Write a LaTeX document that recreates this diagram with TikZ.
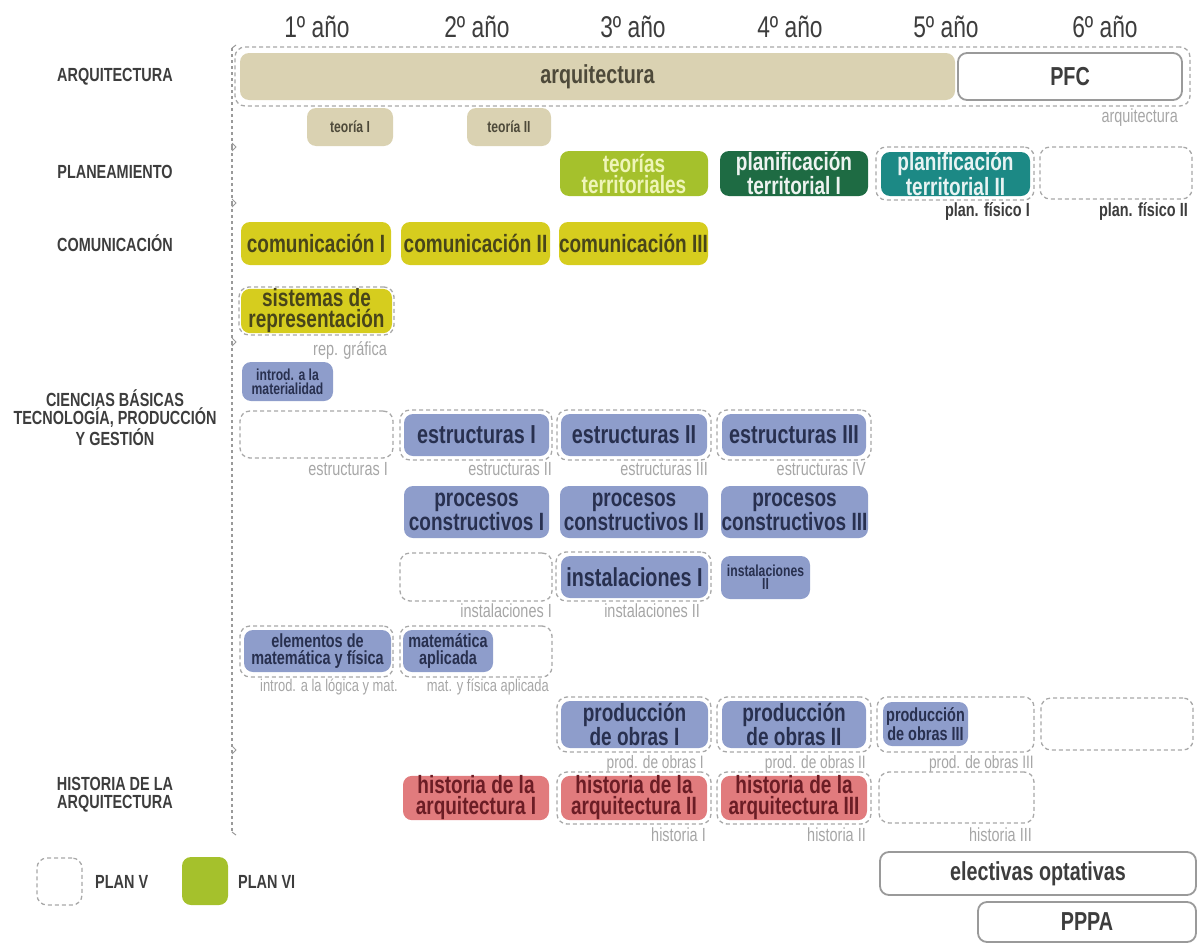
\documentclass[tikz,border=0pt]{standalone}
\usepackage{fontspec}
\setmainfont{Liberation Sans}[FakeStretch=0.76]
\usetikzlibrary{fit,positioning}

\definecolor{beige}{HTML}{DAD2B2}
\definecolor{beigetxt}{HTML}{4E4A3A}
\definecolor{lime}{HTML}{A5C12C}
\definecolor{limetxt}{HTML}{EFF5B8}
\definecolor{dkgreen}{HTML}{1E6B43}
\definecolor{petrol}{HTML}{1C8985}
\definecolor{comyel}{HTML}{D6CD1E}
\definecolor{comtxt}{HTML}{48451A}
\definecolor{tecblue}{HTML}{8E9DCB}
\definecolor{tectxt}{HTML}{28304F}
\definecolor{histred}{HTML}{E17B7D}
\definecolor{histtxt}{HTML}{6B1D25}
\definecolor{lblgray}{HTML}{A6A6A6}
\definecolor{dashgray}{HTML}{A8A8A8}
\definecolor{boxgray}{HTML}{9A9A9A}
\definecolor{darktxt}{HTML}{3D3D3D}

\tikzset{
  year/.style={anchor=base, inner sep=0pt, text=darktxt, font=\fontsize{30}{32}\selectfont},
  area/.style={align=center, inner sep=0pt, text=darktxt, font=\bfseries\fontsize{19}{18}\selectfont},
  dims/.style 2 args={minimum width=#1, minimum height=#2},
  cell/.style={rectangle, rounded corners=9pt, inner sep=0pt, align=center, font=\bfseries\fontsize{25}{21}\selectfont},
  big/.style={font=\bfseries\fontsize{26}{26}\selectfont},
  tiny/.style={font=\bfseries\fontsize{16}{14}\selectfont},
  planv/.style={rectangle, draw=dashgray, line width=1.3pt, dash pattern=on 4pt off 3pt, rounded corners=10pt, inner sep=0pt},
  plain/.style={cell, fill=white, draw=boxgray, line width=1.8pt, text=darktxt},
  arq/.style={cell, fill=beige, text=beigetxt},
  com/.style={cell, fill=comyel, text=comtxt},
  tec/.style={cell, fill=tecblue, text=tectxt},
  hist/.style={cell, fill=histred, text=histtxt},
  lbl/.style={anchor=base east, inner sep=0pt, text=lblgray, font=\fontsize{19}{19}\selectfont},
  oldlbl/.style={lbl, text=darktxt, font=\bfseries\fontsize{19}{19}\selectfont},
  brace/.style={draw=boxgray, line width=1.3pt, dash pattern=on 3pt off 3pt},
  hook/.style={draw=boxgray, line width=1pt}
}

\begin{document}
\begin{tikzpicture}[x=1pt, y=-1pt]
  \useasboundingbox (0,0) rectangle (1200,945);

  % years
  \node (year1) [year] at (317,37) {1º año};
  \node (year2) [year] at (477,37) {2º año};
  \node (year3) [year] at (633,37) {3º año};
  \node (year4) [year] at (790,37) {4º año};
  \node (year5) [year] at (946,37) {5º año};
  \node (year6) [year] at (1105,37) {6º año};

  % areas
  \node (ARQ) [area] at (115,77) {ARQUITECTURA};
  \node (PLA) [area] at (115,172) {PLANEAMIENTO};
  \node (COM) [area] at (115,243) {COMUNICACIÓN};
  \node (CIE) [area] at (115,418) {CIENCIAS BÁSICAS\\TECNOLOGÍA, PRODUCCIÓN\\Y GESTIÓN};
  \node (HIS) [area] at (115,795) {HISTORIA DE LA\\ARQUITECTURA};

  % left bracket
  \coordinate (brk0) at (232,48);
  \coordinate (brk1) at (232,147);
  \coordinate (brk2) at (232,203);
  \coordinate (brk3) at (232,342);
  \coordinate (brk4) at (232,750);
  \coordinate (brk5) at (232,832);
  \draw[brace] (brk0) -- (brk1) (brk1) -- (brk2) (brk2) -- (brk3) (brk3) -- (brk4) (brk4) -- (brk5);
  \draw[hook] (brk0) -- ++(4,-3);
  \draw[hook] (brk1) ++(0,-4) -- ++(4,4) -- ++(-4,4);
  \draw[hook] (brk2) ++(0,-4) -- ++(4,4) -- ++(-4,4);
  \draw[hook] (brk3) ++(0,-4) -- ++(4,4) -- ++(-4,4);
  \draw[hook] (brk4) ++(0,-4) -- ++(4,4) -- ++(-4,4);
  \draw[hook] (brk5) -- ++(4,3);

  % arquitectura
  \node (arqrow) [planv, fit={(235,47) (1190,106)}] {};
  \node (arquitectura) [arq, big, dims={715}{47}] at (597.5,76.5) {arquitectura};
  \node (PFC) [plain, big, dims={224}{47}] at (1070,76.5) {PFC};
  \node (arqlbl) [lbl] at (1178,122) {arquitectura};
  \node (teoriaI) [arq, tiny, dims={86}{38}] at (350,127) {teoría I};
  \node (teoriaII) [arq, tiny, dims={84}{38}] at (509,127) {teoría II};

  % planeamiento
  \node (teorias) [cell, fill=lime, text=limetxt, dims={148}{45}] at (634,173.5) {teorías\\territoriales};
  \node (planI) [cell, fill=dkgreen, text=white!92!dkgreen, dims={148}{45}] at (794,173.5) {planificación\\territorial I};
  \node (planII) [cell, fill=petrol, text=white!90!petrol, dims={149}{44}] at (955.5,174) {planificación\\territorial II};
  \node (fisI) [planv, fit={(876,147) (1034,200)}] {};
  \node (fisII) [planv, fit={(1040,147) (1192,199)}] {};
  \node (fisIlbl) [oldlbl] at (1030,216) {plan. físico I};
  \node (fisIIlbl) [oldlbl] at (1188,216) {plan. físico II};

  % comunicacion
  \node (comI) [com, dims={150}{43}] at (316,243.5) {comunicación I};
  \node (comII) [com, dims={149}{43}] at (475.5,243.5) {comunicación II};
  \node (comIII) [com, dims={149}{43}] at (633.5,243.5) {comunicación III};
  \node (sistemas) [com, dims={151}{42}] at (316.5,311) {sistemas de\\representación};
  \node (repgraf) [planv, fit={(239,287) (394,335)}] {};
  \node (repgraflbl) [lbl] at (387,355) {rep. gráfica};

  % ciencias basicas, tecnologia
  \node (materialidad) [tec, tiny, dims={91}{39}] at (287.5,381.5) {introd. a la\\materialidad};

  \node (estrV) [planv, fit={(240,411) (393,458)}] {};
  \node (estrIv) [planv, fit={(400,410) (552,460)}] {};
  \node (estrI) [tec, big, dims={145}{42}] at (476.5,435) {estructuras I};
  \node (estrIIv) [planv, fit={(557,410) (711,460)}] {};
  \node (estrII) [tec, big, dims={146}{42}] at (634,435) {estructuras II};
  \node (estrIIIv) [planv, fit={(717,410) (871,460)}] {};
  \node (estrIII) [tec, big, dims={144}{42}] at (794,435) {estructuras III};
  \node (estrlblI) [lbl] at (388,475) {estructuras I};
  \node (estrlblII) [lbl] at (552,475) {estructuras II};
  \node (estrlblIII) [lbl] at (708,475) {estructuras III};
  \node (estrlblIV) [lbl] at (866,475) {estructuras IV};

  \node (procI) [tec, dims={145}{52}] at (476.5,512) {procesos\\constructivos I};
  \node (procII) [tec, dims={148}{52}] at (634,512) {procesos\\constructivos II};
  \node (procIII) [tec, dims={147}{52}] at (794.5,512) {procesos\\constructivos III};

  \node (instV) [planv, fit={(400,553) (552,601)}] {};
  \node (instIv) [planv, fit={(556,552) (711,601)}] {};
  \node (instI) [tec, big, dims={147}{42}] at (634.5,577) {instalaciones I};
  \node (instII) [tec, font=\bfseries\fontsize{16}{13}\selectfont, dims={89}{43}] at (765.5,577.5) {instalaciones\\II};
  \node (instlblI) [lbl] at (552,617) {instalaciones I};
  \node (instlblII) [lbl] at (700,617) {instalaciones II};

  \node (elemv) [planv, fit={(240,626) (393,677)}] {};
  \node (elem) [tec, font=\bfseries\fontsize{19}{17}\selectfont, dims={147}{42}] at (317.5,651) {elementos de\\matemática y física};
  \node (matv) [planv, fit={(400,626) (552,677)}] {};
  \node (mat) [tec, font=\bfseries\fontsize{19}{17}\selectfont, dims={90}{42}] at (448,651) {matemática\\aplicada};
  \node (logicalbl) [lbl, font=\fontsize{17}{17}\selectfont] at (398,691) {introd. a la lógica y mat.};
  \node (matlbl) [lbl, font=\fontsize{17}{17}\selectfont] at (549,691) {mat. y física aplicada};

  \node (prodIv) [planv, fit={(557,697) (711,752)}] {};
  \node (prodI) [tec, dims={147}{47}] at (634.5,724.5) {producción\\de obras I};
  \node (prodIIv) [planv, fit={(717,697) (871,752)}] {};
  \node (prodII) [tec, dims={144}{47}] at (794,724.5) {producción\\de obras II};
  \node (prodIIIv) [planv, fit={(877,697) (1034,752)}] {};
  \node (prodIII) [tec, font=\bfseries\fontsize{19}{16}\selectfont, dims={85}{44}] at (925.5,724) {producción\\de obras III};
  \node (prodIVv) [planv, fit={(1041,698) (1193,750)}] {};
  \node (prodlblI) [lbl, font=\fontsize{18}{18}\selectfont] at (704,768) {prod. de obras I};
  \node (prodlblII) [lbl, font=\fontsize{18}{18}\selectfont] at (866,768) {prod. de obras II};
  \node (prodlblIII) [lbl, font=\fontsize{18}{18}\selectfont] at (1034,768) {prod. de obras III};

  % historia
  \node (histI) [hist, dims={146}{44}] at (476,798) {historia de la\\arquitectura I};
  \node (histIIv) [planv, fit={(557,772) (711,824)}] {};
  \node (histII) [hist, dims={146}{44}] at (634,798) {historia de la\\arquitectura II};
  \node (histIIIv) [planv, fit={(717,772) (871,824)}] {};
  \node (histIII) [hist, dims={146}{44}] at (794,798) {historia de la\\arquitectura III};
  \node (histIVv) [planv, fit={(879,772) (1034,823)}] {};
  \node (histlblI) [lbl] at (706,841) {historia I};
  \node (histlblII) [lbl] at (866,841) {historia II};
  \node (histlblIII) [lbl] at (1032,841) {historia III};

  % electivas, PPPA
  \node (electivas) [plain, big, dims={316}{43}] at (1038,873.5) {electivas optativas};
  \node (PPPA) [plain, big, dims={218}{40}] at (1087,922) {PPPA};

  % legend
  \node (planV) [planv, fit={(37,858) (82,905)}] {};
  \node (planVlbl) [area, anchor=west] at (95,882) {PLAN V};
  \node (planVI) [cell, fill=lime, fit={(182,857) (228,905)}] {};
  \node (planVIlbl) [area, anchor=west] at (238,882) {PLAN VI};
\end{tikzpicture}
\end{document}
